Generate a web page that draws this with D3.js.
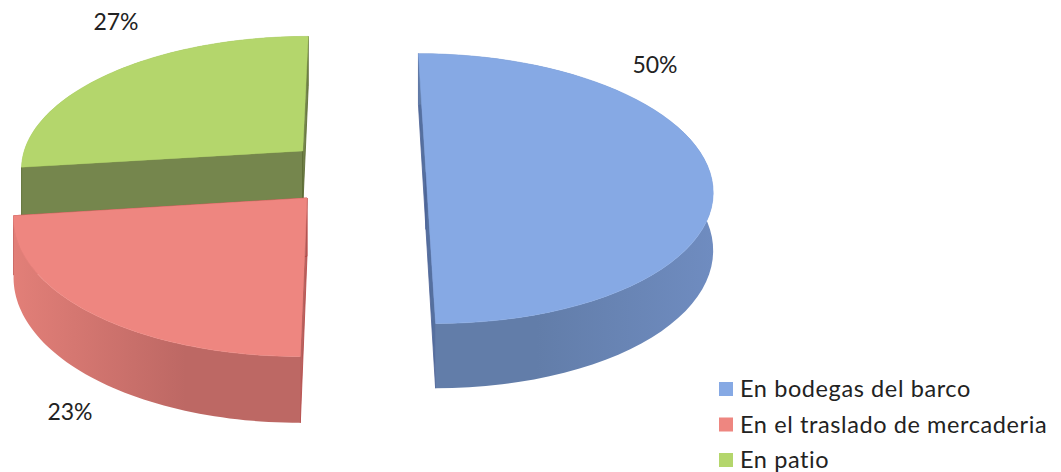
<!DOCTYPE html>
<html>
<head>
<meta charset="utf-8">
<script src="https://cdn.jsdelivr.net/npm/d3@7"></script>
<style>
  html, body { margin: 0; background: #fff; }
  svg { display: block; }
  text { font-family: Lato, "Open Sans", sans-serif; fill: #222; }
</style>
</head>
<body>
<div id="chart"></div>
<script>
const categories = ['En bodegas del barco', 'En el traslado de mercaderia', 'En patio'];
const values = [50, 23, 27];
const valueLabels = ['50%', '23%', '27%'];

const topColors = ['#86a9e4', '#ee8680', '#b4d66c'];
const edgeColors = ['#4a5f94', '#b2403f', '#55652c'];
const wallColors = ['#55709f', '#b76460', '#75864d'];
const rimLight = ['#6f8cc0', '#e27f78', '#9ab85c'];
const rimDark = ['#627da9', '#bd6864', '#8aa050'];

const width = 1061;
const height = 472;

const svg = d3.select('#chart').append('svg')
  .attr('width', width)
  .attr('height', height);

const defs = svg.append('defs');

// Pie layout, clockwise from the top
const pie = d3.pie().sort(null).value(d => d);
const slices = pie(values);

// Fake 3D: disk with radius 1, tilted and seen in perspective
const explode = 0.25;
const depth = 57;
const cx = 355, cy = 172.5;
const rx = 284, ry = 133;
const persp = 0.119;

function project(x, y, z) {
  const s = 1 / (1 - persp * y);
  return [cx + rx * x * s, cy + (ry * y + z) * s];
}

const line = d3.line();
const steps = a => d3.range(0, 61).map(i => a.startAngle + (a.endAngle - a.startAngle) * i / 60);

// Back to front, so red sits over the green wall and blue comes last
const order = [2, 1, 0];

order.forEach(i => {
  const a = slices[i];
  const mid = (a.startAngle + a.endAngle) / 2;
  const ox = Math.sin(mid) * explode;
  const oy = -Math.cos(mid) * explode;
  const rim = z => steps(a).map(t => project(ox + Math.sin(t), oy - Math.cos(t), z));
  const center = z => project(ox, oy, z);
  const top = rim(0);
  const bottom = rim(depth);

  const g = svg.append('g').attr('class', 'slice');

  // Flat walls on both cut edges
  const drawWalls = () => {
    [[top[0], bottom[0]], [top[60], bottom[60]]].forEach(([p, q]) => {
      g.append('path')
        .attr('d', line([center(0), p, q, center(depth)]) + 'Z')
        .attr('fill', wallColors[i])
        .attr('stroke', edgeColors[i])
        .attr('stroke-width', 0.8);
    });
  };

  // Green is the only slice whose cut wall faces the viewer
  if (i !== 2) drawWalls();

  // Outer rim, shaded along x
  const xs = d3.extent(top, p => p[0]);
  const gradId = `rim-${i}`;
  const grad = defs.append('linearGradient')
    .attr('id', gradId)
    .attr('gradientUnits', 'userSpaceOnUse')
    .attr('x1', i === 0 ? xs[1] : xs[0]).attr('x2', i === 0 ? xs[0] : xs[1])
    .attr('y1', 0).attr('y2', 0);
  grad.append('stop').attr('offset', 0).attr('stop-color', rimLight[i]);
  grad.append('stop').attr('offset', 0.6).attr('stop-color', rimDark[i]);
  grad.append('stop').attr('offset', 1).attr('stop-color', rimDark[i]);

  g.append('path')
    .attr('d', line(top.concat(bottom.slice().reverse())) + 'Z')
    .attr('fill', `url(#${gradId})`);

  if (i === 2) drawWalls();

  // Top face
  g.append('path')
    .attr('d', line([center(0)].concat(top)) + 'Z')
    .attr('fill', topColors[i])
    .attr('stroke', topColors[i])
    .attr('stroke-width', 0.6);
});

// Value labels
const labelPos = [[655, 65], [70, 412], [116, 22]];
svg.append('g').selectAll('text')
  .data(valueLabels)
  .join('text')
  .attr('x', (d, i) => labelPos[i][0])
  .attr('y', (d, i) => labelPos[i][1])
  .attr('dy', '0.35em')
  .attr('text-anchor', 'middle')
  .attr('font-size', 23)
  .text(d => d);

// Legend
const legendY = d3.scalePoint().domain(categories).range([389, 460]);
const legend = svg.append('g').selectAll('g')
  .data(categories)
  .join('g')
  .attr('transform', d => `translate(719,${legendY(d)})`);

legend.append('rect')
  .attr('y', -7)
  .attr('width', 14)
  .attr('height', 14)
  .attr('fill', (d, i) => topColors[i]);

legend.append('text')
  .attr('x', 21)
  .attr('dy', '0.35em')
  .attr('font-size', 23.5)
  .attr('letter-spacing', 0.6)
  .text(d => d);
</script>
</body>
</html>
